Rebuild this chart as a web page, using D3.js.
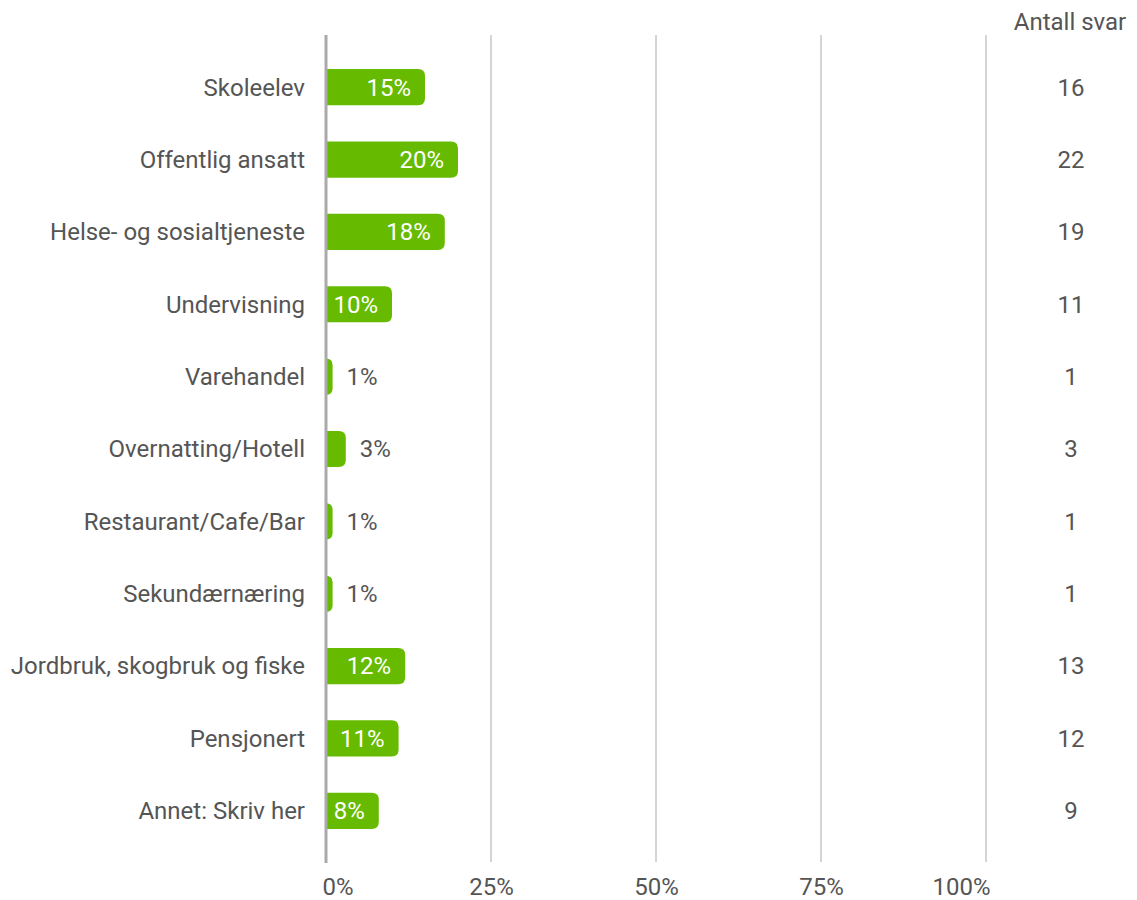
<!DOCTYPE html>
<html><head><meta charset="utf-8">
<script src="https://cdn.jsdelivr.net/npm/d3@7"></script>
<style>body{margin:0;background:#fff}svg{display:block}text{font-family:Roboto,sans-serif}</style>
</head><body>
<script>
const categories = ["Skoleelev","Offentlig ansatt","Helse- og sosialtjeneste","Undervisning","Varehandel","Overnatting/Hotell","Restaurant/Cafe/Bar","Sekundærnæring","Jordbruk, skogbruk og fiske","Pensjonert","Annet: Skriv her"];
const percents = [15,20,18,10,1,3,1,1,12,11,8];
const counts = [16,22,19,11,1,3,1,1,13,12,9];
const tickValues = [0,25,50,75,100];
const countHeader = "Antall svar";

const W=1137,H=900,FS=24;
const svg=d3.select("body").append("svg").attr("width",W).attr("height",H);
const x=d3.scaleLinear().domain([0,100]).range([326,986]);
const y=d3.scaleBand().domain(categories).range([51,847]).paddingInner(0.5).paddingOuter(0.25);
const textCol="#555", grid="#aaaaaa", green="#66bb00";

// gridlines
svg.append("g").selectAll("line").data(tickValues.slice(1)).join("line")
 .attr("x1",d=>x(d)).attr("x2",d=>x(d)).attr("y1",35).attr("y2",862)
 .attr("stroke",grid).attr("stroke-width",1);

// bars
const r=7;
svg.append("g").selectAll("path").data(categories).join("path")
 .attr("d",(c,i)=>{const x0=x(0),x1=x(percents[i]),y0=y(c),h=y.bandwidth();const rr=Math.min(r,(x1-x0));
   return `M${x0},${y0}H${x1-rr}Q${x1},${y0} ${x1},${y0+rr}V${y0+h-rr}Q${x1},${y0+h} ${x1-rr},${y0+h}H${x0}Z`;})
 .attr("fill",green);

// axis line
svg.append("line").attr("x1",x(0)).attr("x2",x(0)).attr("y1",35).attr("y2",863).attr("stroke",grid).attr("stroke-width",3);

// value labels
svg.append("g").selectAll("text").data(categories).join("text")
 .attr("x",(c,i)=>percents[i]>=5? x(percents[i])-14 : x(percents[i])+14)
 .attr("y",c=>y(c)+y.bandwidth()/2).attr("dy","0.35em")
 .attr("text-anchor",(c,i)=>percents[i]>=5?"end":"start")
 .attr("fill",(c,i)=>percents[i]>=5?"#fff":textCol)
 .attr("font-size",FS).text((c,i)=>percents[i]+"%");

// category labels
svg.append("g").selectAll("text").data(categories).join("text")
 .attr("x",305).attr("y",c=>y(c)+y.bandwidth()/2).attr("dy","0.35em")
 .attr("text-anchor","end").attr("fill",textCol).attr("font-size",FS).text(c=>c);

// counts
svg.append("g").selectAll("text").data(categories).join("text")
 .attr("x",1071).attr("y",c=>y(c)+y.bandwidth()/2).attr("dy","0.35em")
 .attr("text-anchor","middle").attr("fill",textCol).attr("font-size",FS).text((c,i)=>counts[i]);
svg.append("text").attr("x",1070).attr("y",22).attr("dy","0.35em").attr("text-anchor","middle")
 .attr("fill",textCol).attr("font-size",FS).text(countHeader);

// x axis
const ax=svg.append("g").attr("transform","translate(0,875)")
 .call(d3.axisBottom(x).tickValues(tickValues).tickFormat(d=>d+"%").tickSize(0).tickPadding(3));
ax.select(".domain").remove();
ax.selectAll("text").attr("font-size",FS).attr("fill",textCol).attr("font-family","Roboto,sans-serif")
 .attr("text-anchor",d=>d===0?"start":(d===100?"end":"middle"))
 .attr("dx",d=>d===0?-4:(d===100?4:0));
</script>
</body></html>
